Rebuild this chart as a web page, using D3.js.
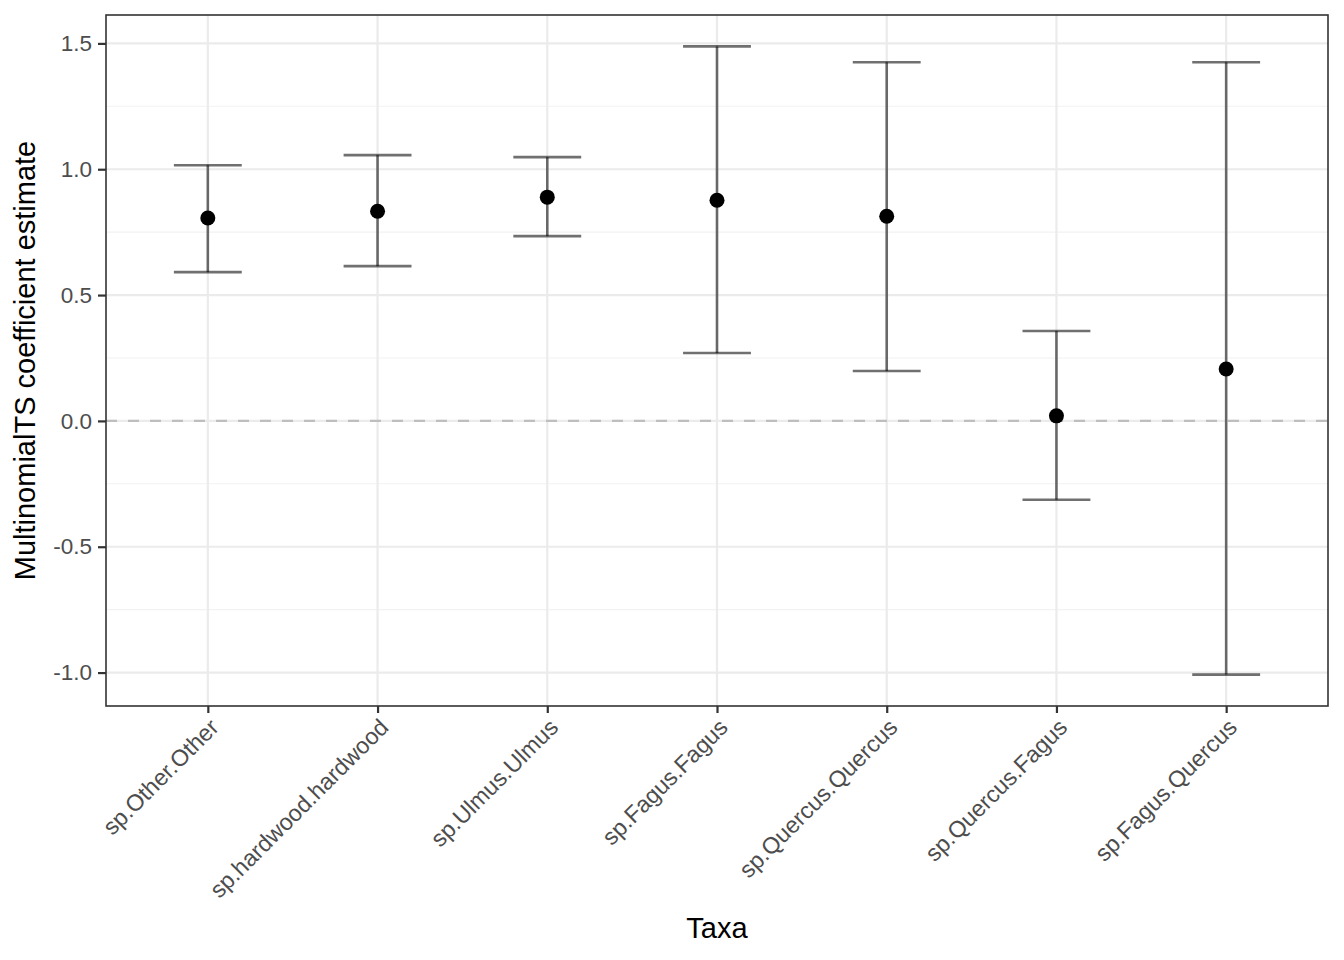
<!DOCTYPE html>
<html>
<head>
<meta charset="utf-8">
<script src="https://cdn.jsdelivr.net/npm/d3@7"></script>
<style>
  body { margin: 0; background: #fff; }
  text { font-family: "Liberation Sans", Arial, sans-serif; }
</style>
</head>
<body>
<svg id="chart"></svg>
<script>
const taxa = ["sp.Other.Other", "sp.hardwood.hardwood", "sp.Ulmus.Ulmus", "sp.Fagus.Fagus",
  "sp.Quercus.Quercus", "sp.Quercus.Fagus", "sp.Fagus.Quercus"];
const estimate = [0.806, 0.833, 0.889, 0.877, 0.813, 0.020, 0.206];
const lower = [0.591, 0.615, 0.734, 0.270, 0.198, -0.313, -1.008];
const upper = [1.016, 1.056, 1.048, 1.488, 1.425, 0.357, 1.425];
const yTicks = [-1.0, -0.5, 0.0, 0.5, 1.0, 1.5];
const yMinor = [-0.75, -0.25, 0.25, 0.75, 1.25];

const data = taxa.map((t, i) => ({ taxon: t, est: estimate[i], lo: lower[i], hi: upper[i] }));

const W = 1344, H = 960;
const margin = { top: 15, right: 16, bottom: 254, left: 106 };
const width = W - margin.left - margin.right;
const height = H - margin.top - margin.bottom;

const svg = d3.select("#chart").attr("width", W).attr("height", H);
const g = svg.append("g").attr("transform", `translate(${margin.left},${margin.top})`);

const x = d3.scalePoint().domain(taxa).range([0, width]).padding(0.6);
const step = x.step();

const lo = d3.min(lower), hi = d3.max(upper);
const pad = (hi - lo) * 0.05;
const y = d3.scaleLinear().domain([lo - pad, hi + pad]).range([height, 0]);

// grid
g.selectAll(".minor").data(yMinor).enter().append("line")
  .attr("x1", 0).attr("x2", width)
  .attr("y1", d => y(d)).attr("y2", d => y(d))
  .attr("stroke", "#f2f2f2").attr("stroke-width", 1.1);
g.selectAll(".major").data(yTicks).enter().append("line")
  .attr("x1", 0).attr("x2", width)
  .attr("y1", d => y(d)).attr("y2", d => y(d))
  .attr("stroke", "#ebebeb").attr("stroke-width", 2.2);
g.selectAll(".vmajor").data(taxa).enter().append("line")
  .attr("x1", d => x(d)).attr("x2", d => x(d))
  .attr("y1", 0).attr("y2", height)
  .attr("stroke", "#ebebeb").attr("stroke-width", 2.2);

// zero line
g.append("line")
  .attr("x1", 0).attr("x2", width)
  .attr("y1", y(0)).attr("y2", y(0))
  .attr("stroke", "#bebebe").attr("stroke-width", 2.2)
  .attr("stroke-dasharray", "11,11");

// error bars
const cap = step * 0.2;
const eb = g.selectAll(".eb").data(data).enter().append("g")
  .attr("stroke", "#000").attr("stroke-opacity", 0.56).attr("stroke-width", 2.6);
eb.append("line")
  .attr("x1", d => x(d.taxon)).attr("x2", d => x(d.taxon))
  .attr("y1", d => y(d.lo)).attr("y2", d => y(d.hi));
eb.append("line")
  .attr("x1", d => x(d.taxon) - cap).attr("x2", d => x(d.taxon) + cap)
  .attr("y1", d => y(d.hi)).attr("y2", d => y(d.hi));
eb.append("line")
  .attr("x1", d => x(d.taxon) - cap).attr("x2", d => x(d.taxon) + cap)
  .attr("y1", d => y(d.lo)).attr("y2", d => y(d.lo));

// points
g.selectAll(".pt").data(data).enter().append("circle")
  .attr("cx", d => x(d.taxon)).attr("cy", d => y(d.est))
  .attr("r", 7.5).attr("fill", "#000");

// panel border
g.append("rect").attr("x", 0).attr("y", 0).attr("width", width).attr("height", height)
  .attr("fill", "none").attr("stroke", "#333").attr("stroke-width", 1.6);

// y axis
const yAxis = g.append("g")
  .call(d3.axisLeft(y).tickValues(yTicks).tickSize(8).tickPadding(6));
yAxis.select(".domain").remove();
yAxis.selectAll(".tick line").attr("stroke", "#333").attr("stroke-width", 2.2);
yAxis.selectAll(".tick text")
  .attr("fill", "#4d4d4d").attr("font-size", 22.5).style("font-size", "22.5px")
  .attr("font-family", "Liberation Sans, Arial, sans-serif")
  .text(d => d < 0 ? "-" + d3.format(".1f")(-d) : d3.format(".1f")(d));

// x axis
const xAxis = g.append("g").attr("transform", `translate(0,${height})`)
  .call(d3.axisBottom(x).tickSize(7).tickPadding(4));
xAxis.select(".domain").remove();
xAxis.selectAll(".tick line").attr("stroke", "#333").attr("stroke-width", 2.2);
xAxis.selectAll(".tick text")
  .attr("fill", "#4d4d4d").attr("font-size", 23.2).style("font-size", "23.2px")
  .attr("font-family", "Liberation Sans, Arial, sans-serif")
  .attr("text-anchor", "end")
  .attr("x", 0).attr("y", 0)
  .attr("dy", "0.72em")
  .attr("transform", "translate(0,11) rotate(-45)");

// titles
svg.append("text")
  .attr("x", margin.left + width / 2).attr("y", 938)
  .attr("text-anchor", "middle").style("font-size", "29px").attr("fill", "#000")
  .text("Taxa");
svg.append("text")
  .attr("transform", `translate(35,${margin.top + height / 2}) rotate(-90)`)
  .attr("text-anchor", "middle").style("font-size", "29px").attr("fill", "#000")
  .text("MultinomialTS coefficient estimate");
</script>
</body>
</html>
